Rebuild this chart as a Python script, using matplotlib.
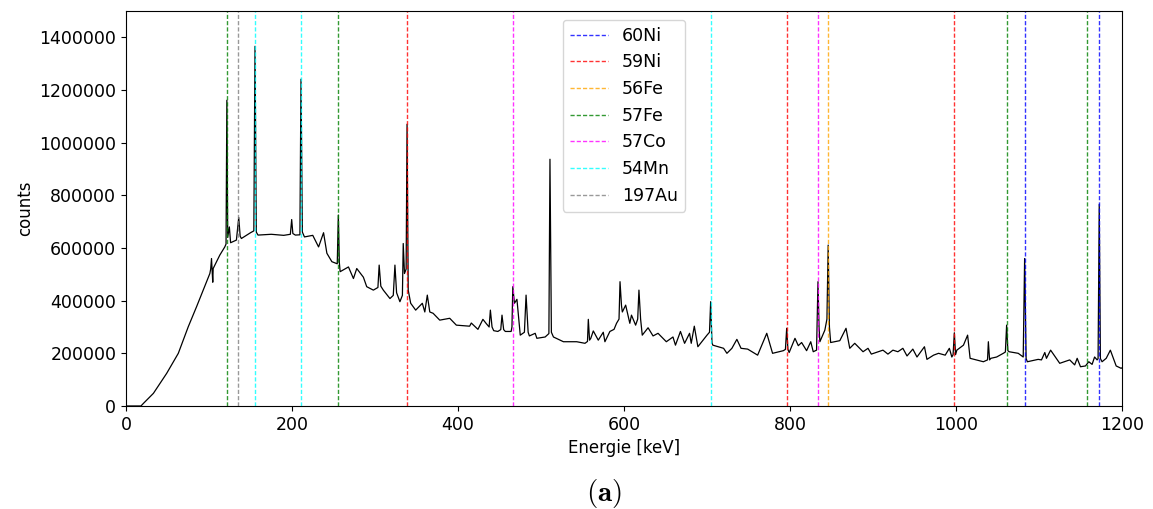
import numpy as np
import matplotlib
matplotlib.use('Agg')
from matplotlib import pyplot as plt

# spectrum: energy [keV] and counts
energy = [0, 18, 21, 33, 49, 63, 75, 85, 101, 102, 103, 104.5, 105, 113, 119, 120.5,
          121.5, 122.5, 124.5, 126, 133, 135.8, 137.5, 139, 150, 154, 155.4, 157, 159,
          175, 190, 198, 199.6, 201, 204, 209.5, 210.8, 212.5, 215, 225, 232, 238, 242,
          248, 254.5, 255.8, 257, 258, 268, 274, 278, 286, 290, 298, 303.5, 305, 307,
          310, 318, 322, 324, 326, 330, 333, 334, 335.5, 337.5, 338.6, 340, 343, 349,
          357, 360, 363, 366, 370, 378, 390, 398, 414, 416, 424, 430, 434, 437.5, 439,
          441, 443, 448, 451.5, 453, 455, 457, 464, 465, 466, 468, 471, 475, 480, 482,
          484.5, 486, 493, 495, 505, 509.5, 510.8, 512.5, 515, 527, 543, 553, 556, 557,
          558.5, 560, 563, 569, 575, 577, 583, 588, 591, 594, 595.2, 597, 598, 602, 607,
          609, 614, 616.5, 618, 620, 622, 629, 635, 641, 651, 659, 662, 668, 673, 679,
          681, 684.7, 689, 700, 703, 704.4, 706, 707, 720, 724, 730, 736, 741, 749,
          761, 772, 779, 792, 794.5, 796, 797.5, 799, 806, 810, 814, 820, 825, 828, 832,
          833.7, 835, 836, 842, 844.5, 846, 847.5, 849, 860, 867.5, 872, 878, 888, 894,
          898, 912, 918, 924, 930, 936, 941, 948, 953, 962, 965, 973, 979, 987, 992,
          995, 996.5, 998, 999.5, 1001, 1009, 1014, 1017, 1033, 1038, 1039, 1040.5,
          1042, 1049, 1057, 1059.5, 1061, 1062.5, 1064, 1075, 1081, 1082.7, 1084.5,
          1086, 1099, 1103, 1107, 1109, 1114, 1125, 1137, 1143, 1146, 1150, 1156, 1160,
          1164, 1167, 1170, 1171.2, 1172.6, 1174, 1176, 1181, 1186, 1193, 1199, 1200]
counts = [0, 0, 10000, 48000, 124000, 200000, 301000, 377000, 503000, 520000, 560000,
          470000, 522000, 573000, 604000, 615000, 1161000, 640000, 680000, 620000,
          630000, 716000, 645000, 636000, 658000, 665000, 1366000, 660000, 649000,
          652000, 648000, 652000, 708000, 655000, 649000, 650000, 1241000, 660000,
          642000, 648000, 604000, 658000, 580000, 548000, 540000, 725000, 545000,
          510000, 528000, 484000, 522000, 489000, 453000, 440000, 450000, 535000,
          455000, 440000, 408000, 420000, 535000, 430000, 396000, 420000, 617000,
          503000, 520000, 1070000, 440000, 390000, 364000, 390000, 357000, 421000,
          357000, 352000, 326000, 333000, 307000, 303000, 315000, 291000, 329000,
          313000, 300000, 364000, 300000, 286000, 283000, 290000, 345000, 290000,
          283000, 283000, 300000, 453000, 390000, 405000, 269000, 280000, 421000,
          280000, 266000, 276000, 257000, 262000, 275000, 937000, 280000, 262000,
          244000, 244000, 238000, 245000, 329000, 250000, 257000, 285000, 250000,
          280000, 244000, 283000, 291000, 314000, 330000, 472000, 380000, 357000,
          383000, 314000, 345000, 307000, 330000, 440000, 330000, 269000, 297000,
          266000, 276000, 244000, 262000, 231000, 283000, 238000, 276000, 238000,
          303000, 225000, 269000, 280000, 396000, 240000, 231000, 219000, 200000,
          219000, 253000, 219000, 216000, 193000, 276000, 200000, 210000, 215000,
          295000, 215000, 203000, 257000, 229000, 241000, 210000, 244000, 206000,
          212000, 472000, 300000, 244000, 288000, 330000, 611000, 300000, 241000,
          248000, 295000, 219000, 238000, 206000, 219000, 197000, 212000, 197000,
          212000, 206000, 219000, 190000, 216000, 186000, 225000, 177000, 193000,
          200000, 193000, 219000, 186000, 195000, 278000, 195000, 212000, 231000,
          269000, 181000, 168000, 175000, 244000, 175000, 181000, 186000, 200000,
          205000, 307000, 210000, 206000, 200000, 186000, 560000, 180000, 168000,
          177000, 175000, 203000, 181000, 212000, 162000, 175000, 156000, 181000,
          149000, 152000, 168000, 158000, 186000, 175000, 180000, 766000, 180000,
          168000, 181000, 212000, 152000, 143000, 145000]

# reference lines per isotope
isotopes = ['60Ni', '59Ni', '56Fe', '57Fe', '57Co', '54Mn', '197Au']
iso_colors = ['blue', 'red', 'orange', 'green', 'magenta', 'cyan', 'gray']
iso_lines = [[1082.7, 1172.6],
             [338.6, 796, 998],
             [846],
             [121.7, 255.8, 1061, 1158],
             [466, 834],
             [155.4, 210.8, 704.4],
             [134.5]]

fig = plt.figure(figsize=(11.53, 5.09), dpi=100)
ax = fig.add_axes([0.1093, 0.2024, 0.8638, 0.776])

ax.plot(energy, counts, color='black', linewidth=0.9)

for name, col, lines in zip(isotopes, iso_colors, iso_lines):
    for i, e in enumerate(lines):
        ax.axvline(e, color=col, linestyle='--', linewidth=1.0, dashes=(3, 1.5),
                   alpha=0.8, label=name if i == 0 else None)

ax.set_xlim(0, 1200)
ax.set_ylim(0, 1500000)
ax.set_xticks(np.arange(0, 1201, 200))
ax.set_yticks(np.arange(0, 1400001, 200000))
ax.ticklabel_format(axis='y', style='plain', useOffset=False)
ax.tick_params(labelsize=12.5)
ax.set_xlabel('Energie [keV]', fontsize=12)
ax.set_ylabel('counts', fontsize=12)
ax.legend(loc='upper center', fontsize=12.5, handlelength=2.2)

plt.rcParams['mathtext.fontset'] = 'cm'
fig.text(0.524, 0.03, r'$\mathbf{(a)}$', fontsize=21, ha='center', va='center')

fig.savefig('out.png', dpi=100)
